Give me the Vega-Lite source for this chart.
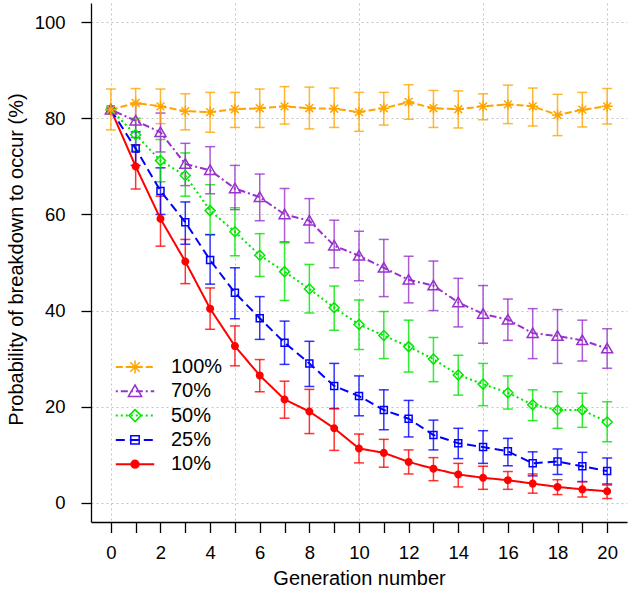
{
  "$schema": "https://vega.github.io/schema/vega-lite/v6.json",
  "width": 536,
  "height": 519,
  "autosize": "none",
  "padding": {"left": 91, "top": 3, "right": 3, "bottom": 70},
  "background": "white",
  "data": {"values": [
    {"s":"10%","g":0,"p":81.8},
    {"s":"10%","g":1,"p":70.0,"lo":65.3,"hi":74.5},
    {"s":"10%","g":2,"p":59.1,"lo":53.4,"hi":63.8},
    {"s":"10%","g":3,"p":50.2,"lo":45.6,"hi":54.8},
    {"s":"10%","g":4,"p":40.4,"lo":36.1,"hi":44.7},
    {"s":"10%","g":5,"p":32.6,"lo":28.5,"hi":36.8},
    {"s":"10%","g":6,"p":26.5,"lo":23.1,"hi":29.8},
    {"s":"10%","g":7,"p":21.5,"lo":17.6,"hi":25.3},
    {"s":"10%","g":8,"p":19.0,"lo":14.4,"hi":23.6},
    {"s":"10%","g":9,"p":15.5,"lo":10.9,"hi":19.6},
    {"s":"10%","g":10,"p":11.3,"lo":8.3,"hi":14.3},
    {"s":"10%","g":11,"p":10.4,"lo":7.4,"hi":13.2},
    {"s":"10%","g":12,"p":8.5,"lo":6.0,"hi":11.0},
    {"s":"10%","g":13,"p":7.1,"lo":4.6,"hi":9.4},
    {"s":"10%","g":14,"p":5.9,"lo":3.3,"hi":8.2},
    {"s":"10%","g":15,"p":5.2,"lo":2.8,"hi":7.6},
    {"s":"10%","g":16,"p":4.7,"lo":2.8,"hi":6.5},
    {"s":"10%","g":17,"p":4.0,"lo":2.0,"hi":6.0},
    {"s":"10%","g":18,"p":3.3,"lo":1.7,"hi":4.8},
    {"s":"10%","g":19,"p":2.8,"lo":1.2,"hi":4.4},
    {"s":"10%","g":20,"p":2.4,"lo":0.9,"hi":3.7},
    {"s":"25%","g":0,"p":81.8},
    {"s":"25%","g":1,"p":73.7,"lo":70.2,"hi":77.2},
    {"s":"25%","g":2,"p":64.9,"lo":60.0,"hi":69.7},
    {"s":"25%","g":3,"p":58.4,"lo":53.8,"hi":62.6},
    {"s":"25%","g":4,"p":50.5,"lo":45.5,"hi":55.8},
    {"s":"25%","g":5,"p":43.7,"lo":38.3,"hi":48.9},
    {"s":"25%","g":6,"p":38.4,"lo":34.0,"hi":42.9},
    {"s":"25%","g":7,"p":33.3,"lo":28.8,"hi":37.8},
    {"s":"25%","g":8,"p":29.0,"lo":24.2,"hi":33.6},
    {"s":"25%","g":9,"p":24.3,"lo":19.6,"hi":29.0},
    {"s":"25%","g":10,"p":22.2,"lo":18.1,"hi":26.4},
    {"s":"25%","g":11,"p":19.3,"lo":15.2,"hi":23.5},
    {"s":"25%","g":12,"p":17.5,"lo":13.7,"hi":21.3},
    {"s":"25%","g":13,"p":14.1,"lo":11.0,"hi":17.2},
    {"s":"25%","g":14,"p":12.4,"lo":9.2,"hi":15.5},
    {"s":"25%","g":15,"p":11.6,"lo":8.2,"hi":15.0},
    {"s":"25%","g":16,"p":10.7,"lo":7.7,"hi":13.4},
    {"s":"25%","g":17,"p":8.2,"lo":5.6,"hi":10.6},
    {"s":"25%","g":18,"p":8.6,"lo":5.9,"hi":11.2},
    {"s":"25%","g":19,"p":7.6,"lo":4.4,"hi":10.5},
    {"s":"25%","g":20,"p":6.6,"lo":3.9,"hi":9.3},
    {"s":"50%","g":0,"p":81.8},
    {"s":"50%","g":1,"p":76.6,"lo":73.2,"hi":80.0},
    {"s":"50%","g":2,"p":71.2,"lo":66.8,"hi":75.6},
    {"s":"50%","g":3,"p":68.1,"lo":63.8,"hi":72.8},
    {"s":"50%","g":4,"p":60.8,"lo":55.8,"hi":66.2},
    {"s":"50%","g":5,"p":56.4,"lo":51.4,"hi":61.4},
    {"s":"50%","g":6,"p":51.5,"lo":47.1,"hi":56.0},
    {"s":"50%","g":7,"p":48.1,"lo":42.1,"hi":54.1},
    {"s":"50%","g":8,"p":44.5,"lo":39.5,"hi":49.6},
    {"s":"50%","g":9,"p":40.6,"lo":35.9,"hi":45.1},
    {"s":"50%","g":10,"p":37.1,"lo":31.9,"hi":42.2},
    {"s":"50%","g":11,"p":34.8,"lo":30.0,"hi":39.8},
    {"s":"50%","g":12,"p":32.5,"lo":27.2,"hi":38.0},
    {"s":"50%","g":13,"p":29.9,"lo":25.2,"hi":34.4},
    {"s":"50%","g":14,"p":26.6,"lo":22.4,"hi":30.7},
    {"s":"50%","g":15,"p":24.7,"lo":20.2,"hi":29.0},
    {"s":"50%","g":16,"p":22.9,"lo":19.5,"hi":26.4},
    {"s":"50%","g":17,"p":20.4,"lo":17.1,"hi":23.5},
    {"s":"50%","g":18,"p":19.3,"lo":15.5,"hi":23.1},
    {"s":"50%","g":19,"p":19.3,"lo":15.7,"hi":22.8},
    {"s":"50%","g":20,"p":16.8,"lo":12.7,"hi":21.0},
    {"s":"70%","g":0,"p":81.8},
    {"s":"70%","g":1,"p":79.5,"lo":76.0,"hi":83.0},
    {"s":"70%","g":2,"p":77.1,"lo":73.0,"hi":81.1},
    {"s":"70%","g":3,"p":70.5,"lo":66.0,"hi":74.8},
    {"s":"70%","g":4,"p":69.2,"lo":64.3,"hi":74.1},
    {"s":"70%","g":5,"p":65.4,"lo":61.0,"hi":70.2},
    {"s":"70%","g":6,"p":63.6,"lo":58.7,"hi":68.4},
    {"s":"70%","g":7,"p":60.0,"lo":54.3,"hi":65.4},
    {"s":"70%","g":8,"p":58.7,"lo":54.1,"hi":63.3},
    {"s":"70%","g":9,"p":53.5,"lo":48.9,"hi":58.8},
    {"s":"70%","g":10,"p":51.4,"lo":46.2,"hi":56.5},
    {"s":"70%","g":11,"p":48.9,"lo":42.9,"hi":54.8},
    {"s":"70%","g":12,"p":46.4,"lo":41.6,"hi":51.3},
    {"s":"70%","g":13,"p":45.2,"lo":40.0,"hi":50.3},
    {"s":"70%","g":14,"p":41.7,"lo":36.6,"hi":46.7},
    {"s":"70%","g":15,"p":39.3,"lo":33.2,"hi":45.2},
    {"s":"70%","g":16,"p":38.1,"lo":33.8,"hi":42.4},
    {"s":"70%","g":17,"p":35.3,"lo":30.0,"hi":40.4},
    {"s":"70%","g":18,"p":34.7,"lo":29.0,"hi":40.2},
    {"s":"70%","g":19,"p":33.8,"lo":29.5,"hi":38.0},
    {"s":"70%","g":20,"p":32.1,"lo":28.0,"hi":36.2},
    {"s":"100%","g":0,"p":81.8,"lo":77.6,"hi":86.1},
    {"s":"100%","g":1,"p":83.2,"lo":79.6,"hi":86.2},
    {"s":"100%","g":2,"p":82.5,"lo":78.9,"hi":86.1},
    {"s":"100%","g":3,"p":81.5,"lo":77.6,"hi":85.1},
    {"s":"100%","g":4,"p":81.3,"lo":77.1,"hi":85.4},
    {"s":"100%","g":5,"p":81.9,"lo":78.1,"hi":85.4},
    {"s":"100%","g":6,"p":82.1,"lo":78.1,"hi":86.1},
    {"s":"100%","g":7,"p":82.5,"lo":78.8,"hi":86.6},
    {"s":"100%","g":8,"p":82.1,"lo":77.8,"hi":86.5},
    {"s":"100%","g":9,"p":82.0,"lo":78.1,"hi":86.3},
    {"s":"100%","g":10,"p":81.3,"lo":77.3,"hi":85.4},
    {"s":"100%","g":11,"p":82.1,"lo":78.6,"hi":85.4},
    {"s":"100%","g":12,"p":83.4,"lo":79.8,"hi":87.0},
    {"s":"100%","g":13,"p":82.1,"lo":78.1,"hi":85.8},
    {"s":"100%","g":14,"p":81.9,"lo":78.0,"hi":85.7},
    {"s":"100%","g":15,"p":82.5,"lo":79.7,"hi":85.1},
    {"s":"100%","g":16,"p":82.9,"lo":78.9,"hi":86.9},
    {"s":"100%","g":17,"p":82.5,"lo":78.4,"hi":86.3},
    {"s":"100%","g":18,"p":80.7,"lo":76.4,"hi":85.0},
    {"s":"100%","g":19,"p":81.8,"lo":78.2,"hi":85.4},
    {"s":"100%","g":20,"p":82.5,"lo":78.8,"hi":86.2}
  ]},
  "encoding": {
    "x": {
      "field": "g", "type": "quantitative",
      "scale": {"domain": [-0.8, 20.8], "nice": false, "zero": false},
      "axis": {
        "values": [0,1,2,3,4,5,6,7,8,9,10,11,12,13,14,15,16,17,18,19,20],
        "labelExpr": "datum.value % 2 === 0 ? datum.label : ''",
        "tickSize": 10.5, "labelPadding": 11, "labelFlush": false, "labelOverlap": false,
        "gridOpacity": {"condition": {"test": "datum.value % 5 === 0", "value": 1}, "value": 0},
        "title": "Generation number", "titleY": 56, "titleBaseline": "middle"
      }
    }
  },
  "layer": [
    {
      "mark": {"type": "errorbar", "ticks": {"size": 10, "thickness": 1.5, "opacity": 0.8}, "rule": {"strokeWidth": 1.5, "opacity": 0.8}},
      "encoding": {
        "y": {"field": "lo", "type": "quantitative",
          "scale": {"domain": [-4, 104], "nice": false, "zero": false},
          "axis": {"values": [0,20,40,60,80,100], "tickSize": 10, "labelPadding": 16,
            "title": "Probability of breakdown to occur (%)", "titleX": -75, "titleY": 256, "titleBaseline": "middle"}},
        "y2": {"field": "hi"},
        "color": {"field": "s", "type": "nominal", "legend": null,
          "scale": {"domain": ["100%","70%","50%","25%","10%"], "range": ["#FFA500","#9932CC","#00E600","#0000FF","#FF0000"]}}
      }
    },
    {
      "mark": {"type": "line", "strokeWidth": 2},
      "encoding": {
        "y": {"field": "p", "type": "quantitative",
          "scale": {"domain": [-4, 104], "nice": false, "zero": false},
          "axis": {"values": [0,20,40,60,80,100], "tickSize": 10, "labelPadding": 16,
            "title": "Probability of breakdown to occur (%)", "titleX": -75, "titleY": 256, "titleBaseline": "middle"}},
        "color": {"field": "s", "type": "nominal",
          "scale": {"domain": ["100%","70%","50%","25%","10%"], "range": ["#FFA500","#9932CC","#00E600","#0000FF","#FF0000"]},
          "legend": {"orient": "none", "legendX": 34, "legendY": 354, "title": null, "symbolType": "M-3.2,0L3.2,0", "symbolSize": 144, "symbolStrokeWidth": 2, "labelExpr": "''", "labelFontSize": 20, "labelOffset": 26, "rowPadding": 4.3}},
        "strokeDash": {"field": "s", "type": "nominal",
          "scale": {"domain": ["100%","70%","50%","25%","10%"], "range": [[7,3],[2,3,7,3],[2,3],[9,5],[1,0]]},
          "legend": {"orient": "none", "legendX": 34, "legendY": 354, "title": null, "symbolType": "M-3.2,0L3.2,0", "symbolSize": 144, "symbolStrokeWidth": 2, "labelExpr": "''", "labelFontSize": 20, "labelOffset": 26, "rowPadding": 4.3}}
      }
    },
    {
      "mark": {"type": "point", "size": 100, "strokeWidth": 1.5, "opacity": 1},
      "encoding": {
        "y": {"field": "p", "type": "quantitative",
          "scale": {"domain": [-4, 104], "nice": false, "zero": false},
          "axis": {"values": [0,20,40,60,80,100], "tickSize": 10, "labelPadding": 16,
            "title": "Probability of breakdown to occur (%)", "titleX": -75, "titleY": 256, "titleBaseline": "middle"}},
        "stroke": {"field": "s", "type": "nominal",
          "scale": {"domain": ["100%","70%","50%","25%","10%"], "range": ["#FFA500","#9932CC","#00E600","#0000FF","#FF0000"]},
          "legend": {"orient": "none", "legendX": 34, "legendY": 354, "title": null, "symbolSize": 144, "symbolStrokeWidth": 1.5, "labelFontSize": 20, "labelOffset": 26, "rowPadding": 4.3}},
        "fill": {"field": "s", "type": "nominal",
          "scale": {"domain": ["100%","70%","50%","25%","10%"], "range": ["transparent","transparent","transparent","transparent","#FF0000"]},
          "legend": {"orient": "none", "legendX": 34, "legendY": 354, "title": null, "symbolSize": 144, "symbolStrokeWidth": 1.5, "labelFontSize": 20, "labelOffset": 26, "rowPadding": 4.3}},
        "shape": {"field": "s", "type": "nominal",
          "scale": {"domain": ["100%","70%","50%","25%","10%"], "range": [
            "M-1.1,0H1.1M0,-1.1V1.1M-0.78,-0.78L0.78,0.78M-0.78,0.78L0.78,-0.78",
            "M0,-1.05L1.1,0.85L-1.1,0.85Z",
            "M0,-1L1,0L0,1L-1,0Z",
            "M-0.7,-0.7H0.7V0.7H-0.7Z",
            "M-0.65,0A0.65,0.65,0,1,0,0.65,0A0.65,0.65,0,1,0,-0.65,0Z"
          ]},
          "legend": {"orient": "none", "legendX": 34, "legendY": 354, "title": null, "symbolSize": 144, "symbolStrokeWidth": 1.5, "labelFontSize": 20, "labelOffset": 26, "rowPadding": 4.3}}
      }
    }
  ],
  "resolve": {"legend": {"color": "independent", "strokeDash": "independent", "stroke": "independent", "fill": "independent", "shape": "independent"}},
  "config": {
    "view": {"stroke": null},
    "font": "Liberation Sans",
    "axis": {
      "domainColor": "black", "domainWidth": 1.3, "tickColor": "black", "tickWidth": 1.3,
      "labelColor": "black", "titleColor": "black",
      "labelFont": "Liberation Sans", "titleFont": "Liberation Sans",
      "labelFontSize": 18.5, "titleFontSize": 20, "titleFontWeight": "normal",
      "gridColor": "#c4c4c4", "gridDash": [2, 3], "gridWidth": 1
    },
    "legend": {"labelFont": "Liberation Sans", "labelFontSize": 20, "labelColor": "black"}
  }
}
